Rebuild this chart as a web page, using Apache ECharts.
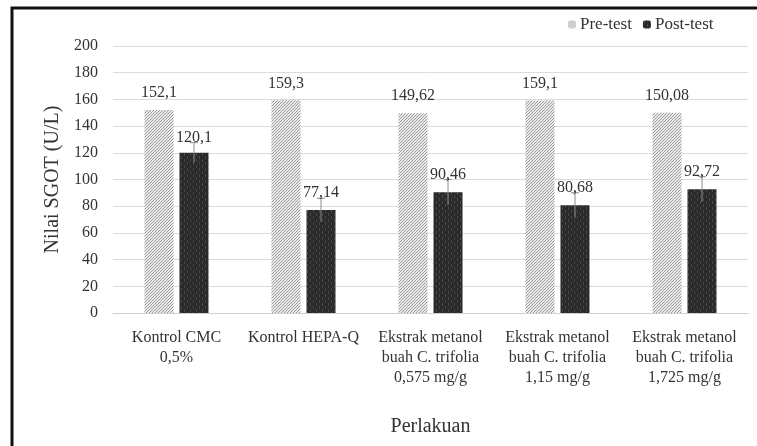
<!DOCTYPE html>
<html>
<head>
<meta charset="utf-8">
<script src="https://cdn.jsdelivr.net/npm/echarts@6/dist/echarts.min.js"></script>
<style>
  html, body { margin: 0; padding: 0; background: #fff; }
  #chart { width: 757px; height: 446px; }
</style>
</head>
<body>
<div id="chart"></div>
<script>
// Treatment groups (x axis)
const categories = [
  'Kontrol CMC\n0,5%',
  'Kontrol HEPA-Q',
  'Ekstrak metanol\nbuah C. trifolia\n0,575 mg/g',
  'Ekstrak metanol\nbuah C. trifolia\n1,15 mg/g',
  'Ekstrak metanol\nbuah C. trifolia\n1,725 mg/g'
];
// SGOT values (U/L)
const preTest = [152.1, 159.3, 149.62, 159.1, 150.08];
const postTest = [120.1, 77.14, 90.46, 80.68, 92.72];
// Standard deviation of the post-test values
const postError = [7.5, 8.8, 9.6, 9.4, 9.4];
const yTicks = { min: 0, max: 200, interval: 20 };

const fmt = v => String(v).replace('.', ',');

// Fine diagonal hatch for the pre-test bars
function hatchPattern() {
  const c = document.createElement('canvas');
  c.width = 3; c.height = 3;
  const g = c.getContext('2d');
  g.fillStyle = '#ebebeb';
  g.fillRect(0, 0, 3, 3);
  g.fillStyle = '#9a9a9a';
  for (let k = 0; k < 3; k++) g.fillRect(2 - k, k, 1, 1);
  return c;
}
// Dark textured fill for the post-test bars
function darkPattern() {
  const c = document.createElement('canvas');
  c.width = 6; c.height = 6;
  const g = c.getContext('2d');
  g.fillStyle = '#2a2a2a';
  g.fillRect(0, 0, 6, 6);
  g.fillStyle = '#484848';
  g.fillRect(1, 0, 1, 3);
  g.fillRect(4, 3, 1, 3);
  return c;
}

const chart = echarts.init(document.getElementById('chart'), null, { renderer: 'canvas' });
const FONT = '"Liberation Serif", "Times New Roman", serif';
const BAR_W = 29, BAR_GAP = 6;

chart.setOption({
  animation: false,
  backgroundColor: '#ffffff',
  textStyle: { fontFamily: FONT, color: '#333' },
  graphic: [{
    type: 'polyline',
    shape: { points: [[12, 446], [12, 8], [757, 8]] },
    style: { stroke: '#111', lineWidth: 3, fill: null },
    silent: true
  }],
  legend: {
    left: 563, top: 11,
    itemWidth: 8, itemHeight: 8, itemGap: 11,
    textStyle: { fontFamily: FONT, fontSize: 17, color: '#333', padding: [0, 0, 0, -1] },
    data: ['Pre-test', 'Post-test']
  },
  grid: { left: 113, right: 9, top: 46, bottom: 133 },
  xAxis: {
    type: 'category',
    data: categories,
    name: 'Perlakuan',
    nameLocation: 'middle',
    nameGap: 104,
    nameTextStyle: { fontFamily: FONT, fontSize: 20, color: '#333' },
    axisLine: { lineStyle: { color: '#d0d0d0' } },
    axisTick: { show: false },
    axisLabel: { interval: 0, margin: 15, fontFamily: FONT, fontSize: 16, lineHeight: 20, color: '#333' }
  },
  yAxis: {
    type: 'value',
    min: yTicks.min, max: yTicks.max, interval: yTicks.interval,
    name: 'Nilai SGOT (U/L)',
    nameLocation: 'middle',
    nameGap: 48,
    nameTextStyle: { fontFamily: FONT, fontSize: 20, color: '#333' },
    axisLine: { show: false },
    axisTick: { show: false },
    axisLabel: { margin: 15, fontFamily: FONT, fontSize: 16, color: '#333' },
    splitLine: { lineStyle: { color: '#dcdcdc' } }
  },
  series: [
    {
      name: 'Pre-test',
      type: 'bar',
      data: preTest,
      barWidth: BAR_W,
      barGap: (BAR_GAP / BAR_W * 100) + '%',
      itemStyle: { color: { image: hatchPattern(), repeat: 'repeat' } },
      label: {
        show: true, position: 'top', distance: 9,
        fontFamily: FONT, fontSize: 16, color: '#333',
        formatter: p => fmt(p.value)
      }
    },
    {
      name: 'Post-test',
      type: 'bar',
      data: postTest,
      barWidth: BAR_W,
      itemStyle: { color: { image: darkPattern(), repeat: 'repeat' } }
    },
    {
      // Error bars and value labels for the post-test bars
      name: 'Post-test error',
      type: 'custom',
      data: postTest.map((v, i) => [i, v, postError[i]]),
      encode: { x: 0, y: 1 },
      z: 5,
      renderItem: function (params, api) {
        const i = api.value(0), v = api.value(1), e = api.value(2);
        const dx = (BAR_W + BAR_GAP) / 2;
        const top = api.coord([i, v + e]);
        const bot = api.coord([i, v - e]);
        const x = top[0] + dx;
        return {
          type: 'group',
          children: [
            { type: 'line', shape: { x1: x, y1: top[1], x2: x, y2: bot[1] },
              style: { stroke: '#8c8c8c', lineWidth: 1 } },
            { type: 'line', shape: { x1: x - 4, y1: top[1], x2: x + 4, y2: top[1] },
              style: { stroke: '#8c8c8c', lineWidth: 1 } },
            { type: 'text', x: x, y: top[1] + 3,
              style: { text: fmt(v), fontFamily: FONT, fontSize: 16, fill: '#333',
                       textAlign: 'center', textVerticalAlign: 'bottom' } }
          ]
        };
      }
    }
  ]
});
</script>
</body>
</html>
